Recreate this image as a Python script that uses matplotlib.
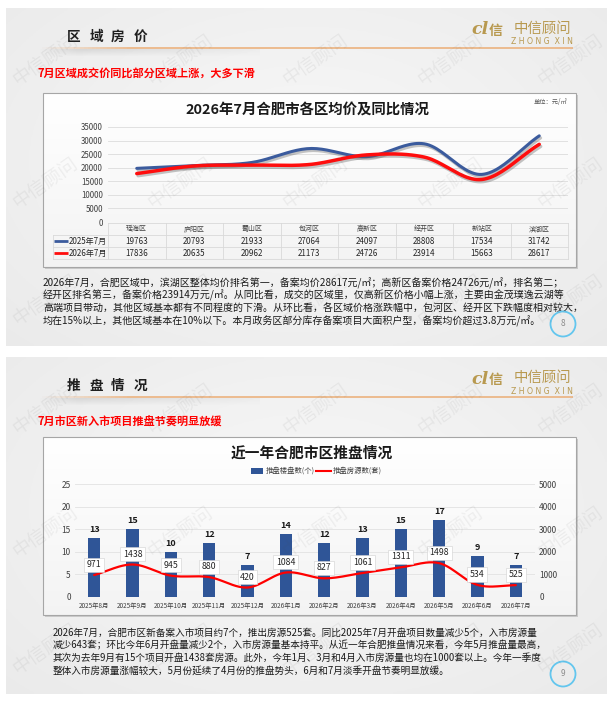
import matplotlib.pyplot as plt
import matplotlib.patheffects as pe
import numpy as np
from matplotlib.patches import Rectangle, Circle
from matplotlib.collections import LineCollection

plt.rcParams['font.family'] = ['Noto Sans CJK SC', 'DejaVu Sans']

# chart 1: district prices (yuan / m2)
districts = ['瑶海区', '庐阳区', '蜀山区', '包河区', '高新区', '经开区', '新站区', '滨湖区']
price_2025 = [19763, 20793, 21933, 27064, 24097, 28808, 17534, 31742]
price_2026 = [17836, 20635, 20962, 21173, 24726, 23914, 15663, 28617]
price_labels = ['2025年7月', '2026年7月']

# chart 2: monthly launches
months = ['2025年8月', '2025年9月', '2025年10月', '2025年11月', '2025年12月', '2026年1月',
          '2026年2月', '2026年3月', '2026年4月', '2026年5月', '2026年6月', '2026年7月']
projects = [13, 15, 10, 12, 7, 14, 12, 13, 15, 17, 9, 7]
units = [971, 1438, 945, 880, 420, 1084, 827, 1061, 1311, 1498, 534, 525]
bar_legend = ['推盘楼盘数(个)', '推盘房源数(套)']

para1 = [
    '2026年7月，合肥区域中，滨湖区整体均价排名第一，备案均价28617元/㎡；高新区备案价格24726元/㎡，排名第二；',
    '经开区排名第三，备案价格23914万元/㎡。从同比看，成交的区域里，仅高新区价格小幅上涨，主要由金茂璞逸云湖等',
    '高端项目带动，其他区域基本都有不同程度的下滑。从环比看，各区域价格涨跌幅中，包河区、经开区下跌幅度相对较大，',
    '均在15%以上，其他区域基本在10%以下。本月政务区部分库存备案项目大面积户型，备案均价超过3.8万元/㎡。',
]
para2 = [
    '2026年7月，合肥市区新备案入市项目约7个，推出房源525套。同比2025年7月开盘项目数量减少5个，入市房源量',
    '减少643套；环比今年6月开盘量减少2个，入市房源量基本持平。从近一年合肥推盘情况来看，今年5月推盘量最高，',
    '其次为去年9月有15个项目开盘1438套房源。此外，今年1月、3月和4月入市房源量也均在1000套以上。今年一季度',
    '整体入市房源量涨幅较大，5月份延续了4月份的推盘势头，6月和7月淡季开盘节奏明显放缓。',
]

W, H = 611, 703
BLUE_LINE = '#3B5B9D'
RED = '#FF0D0D'
BAR = '#2F5597'
GOLD = '#B8994F'
TXT = '#404040'

fig = plt.figure(figsize=(W / 100, H / 100), dpi=100)
bg = fig.add_axes([0, 0, 1, 1])
bg.axis('off')


def frac(x0, y0, x1, y1):
    # pixel box (top-left origin) -> figure fraction rect
    return [x0 / W, 1 - y1 / H, (x1 - x0) / W, (y1 - y0) / H]


def smooth(xs, ys, n=24):
    # Catmull-Rom curve through the points (like Excel's smoothed line)
    x = np.asarray(xs, float)
    y = np.asarray(ys, float)
    x = np.r_[2 * x[0] - x[1], x, 2 * x[-1] - x[-2]]
    y = np.r_[2 * y[0] - y[1], y, 2 * y[-1] - y[-2]]
    t = np.linspace(0, 1, n)
    sx, sy = [], []
    for i in range(1, len(x) - 2):
        for arr, out in ((x, sx), (y, sy)):
            p0, p1, p2, p3 = arr[i - 1:i + 3]
            out.append(0.5 * (2 * p1 + (p2 - p0) * t
                              + (2 * p0 - 5 * p1 + 4 * p2 - p3) * t ** 2
                              + (3 * p1 - p0 - 3 * p2 + p3) * t ** 3))
    return np.concatenate(sx), np.concatenate(sy)


def draw_slide(y0, y1, title, subtitle, box, page, page_y, para, para_x, para_y, para_dy, para_fs):
    yy, xx = np.mgrid[0:1:120j, 0:1:240j]
    d = np.sqrt((xx - 0.5) ** 2 + ((yy - 0.45) * 0.9) ** 2)
    v = 0.972 - 0.075 * d
    bg.imshow(np.dstack([v, v, v]), extent=(6, 607, y1, y0), aspect='auto', zorder=0)

    # header
    for k, ch in enumerate(title):
        bg.text(74 + 22 * k, y0 + 29, ch, fontsize=9.8, fontweight='bold',
                ha='center', va='center', color='#1f1f1f', zorder=3)
    xs_ = np.linspace(38, 573, 140)
    segs = [[(xs_[i], y0 + 40), (xs_[i + 1], y0 + 40)] for i in range(len(xs_) - 1)]
    alphas = np.clip((xs_[:-1] - 38) / 90, 0, 1)
    bg.add_collection(LineCollection(segs, colors=[(0.92, 0.68, 0.46, a) for a in alphas],
                                     linewidths=1.1, zorder=3))
    sh = np.zeros((8, 100, 4))
    sh[..., :3] = 0.55
    gy, gx = np.mgrid[0:1:8j, 0:1:100j]
    sh[..., 3] = 0.22 * (1 - gy) * np.clip(1.2 - gx, 0, 1) * np.clip(gx * 6, 0, 1)
    bg.imshow(sh, extent=(38, 260, y0 + 49, y0 + 41), aspect='auto', zorder=2)

    # logo
    bg.text(480, y0 + 22, 'cl', fontsize=12.5, family='DejaVu Serif', style='italic',
            fontweight='bold', color=GOLD, ha='center', va='center', zorder=3)
    bg.text(496, y0 + 23, '信', fontsize=10, fontweight='bold', color=GOLD,
            ha='center', va='center', zorder=3)
    bg.text(542, y0 + 21, '中信顾问', fontsize=10.4, color=GOLD, ha='center', va='center', zorder=3)
    bg.text(542, y0 + 34, 'Z H O N G  X I N', fontsize=5.6, family='DejaVu Sans',
            color=GOLD, ha='center', va='center', zorder=3)

    bg.text(38, y0 + 65, subtitle, fontsize=8, fontweight='bold', color='#FF0000',
            va='center', zorder=3)

    # chart frame
    bx0, by0, bx1, by1 = box
    bg.add_patch(Rectangle((bx0 + 2, by0 + 2), bx1 - bx0, by1 - by0, fc='0.55',
                           alpha=0.35, ec='none', zorder=1))
    g = np.linspace(1.0, 0.955, 60)[:, None] * np.ones((1, 4))
    bg.imshow(np.dstack([g, g, g]), extent=(bx0, bx1, by1, by0), aspect='auto', zorder=1.5)
    bg.add_patch(Rectangle((bx0, by0), bx1 - bx0, by1 - by0, fc='none',
                           ec='#a6a6a6', lw=0.8, zorder=2))

    for k, line in enumerate(para):
        bg.text(para_x, para_y + k * para_dy, line, fontsize=para_fs, color='#1a1a1a',
                va='center', zorder=3)

    bg.add_patch(Circle((563, page_y), 12.5, fill=False, ec='#63C6EE', lw=1.3, zorder=3))
    bg.text(563, page_y, page, fontsize=6, color='#8c8c8c', ha='center', va='center', zorder=3)


draw_slide(8, 346, '区域房价', '7月区域成交价同比部分区域上涨，大多下滑', (43, 93, 576, 267),
           '8', 324, para1, 43, 283, 12.8, 7.2)
draw_slide(357, 694, '推盘情况', '7月市区新入市项目推盘节奏明显放缓', (43, 437, 576, 615),
           '9', 674, para2, 53, 633, 12.4, 6.95)

bg.text(307, 110, '2026年7月合肥市各区均价及同比情况', fontsize=10.4, fontweight='bold',
        ha='center', va='center', color='#1a1a1a', zorder=3)
bg.text(567, 102, '单位：元/㎡', fontsize=4.5, color='#595959', ha='right', va='center', zorder=3)
bg.text(312, 453, '近一年合肥市区推盘情况', fontsize=10.6, fontweight='bold',
        ha='center', va='center', color='#1a1a1a', zorder=3)

# legend of chart 2
bg.add_patch(Rectangle((251, 468), 12, 6, fc=BAR, ec='none', zorder=3))
bg.text(265.5, 471, bar_legend[0], fontsize=5.3, color=TXT, va='center', zorder=3)
bg.plot([316, 331], [471, 471], color='#FF0000', lw=1.5, zorder=3)
bg.text(333, 471, bar_legend[1], fontsize=5.3, color=TXT, va='center', zorder=3)

bg.set_xlim(0, W)
bg.set_ylim(H, 0)

# ---- chart 1: smoothed price lines
ax1 = fig.add_axes(frac(108, 127, 568, 222))
ax1.patch.set_alpha(0)
xs = np.arange(len(districts))
for vals, c, lw in ((price_2025, BLUE_LINE, 2.2), (price_2026, RED, 2.5)):
    sx, sy = smooth(xs, vals)
    ax1.plot(sx, sy, color=c, lw=lw, solid_capstyle='round',
             path_effects=[pe.SimpleLineShadow(offset=(1, -1.5), shadow_color='0.35', alpha=0.35),
                           pe.Normal()])
ax1.set_xlim(-0.5, len(districts) - 0.5)
ax1.set_ylim(0, 35000)
ax1.set_yticks(range(0, 35001, 5000))
ax1.set_xticks([])
ax1.grid(axis='y', color='#dcdcdc', lw=0.6)
ax1.set_axisbelow(True)
for s in ax1.spines.values():
    s.set_visible(False)
ax1.tick_params(axis='y', length=0, labelsize=5.7, labelcolor=TXT, pad=3.6)

# data table under chart 1
tb = fig.add_axes(frac(108, 223, 568, 259))
tb.axis('off')
tb.set_xlim(-0.5, len(districts) - 0.5)
tb.set_ylim(3, 0)
col_w = (568 - 108) / len(districts)


def tx(px):
    return (px - 108) / col_w - 0.5


gc = '#d9d9d9'
tb.plot([-0.5, len(districts) - 0.5], [0, 0], color=gc, lw=0.6, clip_on=False)
for r in (1, 2, 3):
    tb.plot([tx(53), len(districts) - 0.5], [r, r], color=gc, lw=0.6, clip_on=False)
for k in range(len(districts) + 1):
    tb.plot([k - 0.5, k - 0.5], [0, 3], color=gc, lw=0.6, clip_on=False)
tb.plot([tx(53), tx(53)], [1, 3], color=gc, lw=0.6, clip_on=False)
for i, name in enumerate(districts):
    tb.text(i, 0.5, name, ha='center', va='center', fontsize=5, color=TXT)
    tb.text(i, 1.5, f'{price_2025[i]}', ha='center', va='center', fontsize=5.8, color='#262626')
    tb.text(i, 2.5, f'{price_2026[i]}', ha='center', va='center', fontsize=5.8, color='#262626')
for r, (lab, c) in enumerate(zip(price_labels, (BLUE_LINE, RED))):
    tb.plot([tx(54), tx(68)], [r + 1.5, r + 1.5], color=c, lw=2, clip_on=False,
            solid_capstyle='butt')
    tb.text(tx(69), r + 1.5, lab, ha='left', va='center', fontsize=5.8, color='#262626',
            clip_on=False)

# ---- chart 2: bars + smoothed line on secondary axis
ax2 = fig.add_axes(frac(75, 484, 535, 597))
ax2.patch.set_alpha(0)
x2 = np.arange(len(months))
bars = ax2.bar(x2, projects, width=0.33, color=BAR, zorder=2)
ax2.set_xlim(-0.5, len(months) - 0.5)
ax2.set_ylim(0, 25)
ax2.set_yticks(range(0, 26, 5))
ax2.set_xticks(x2)
ax2.set_xticklabels(months, fontsize=4.6, color=TXT)
ax2.tick_params(axis='x', length=0, pad=3.5)
ax2.tick_params(axis='y', length=0, labelsize=6, labelcolor=TXT, pad=3)
ax2.grid(axis='y', color='#e2e2e2', lw=0.6)
ax2.set_axisbelow(True)
for s in ax2.spines.values():
    s.set_visible(False)
for b, v in zip(bars, projects):
    ax2.annotate(str(v), (b.get_x() + b.get_width() / 2, v), xytext=(0, 3),
                 textcoords='offset points', ha='center', va='bottom',
                 fontsize=6.5, fontweight='bold', color='#1a1a1a')

ax3 = ax2.twinx()
ax3.set_ylim(0, 5000)
ax3.set_yticks(range(0, 5001, 1000))
ax3.tick_params(axis='y', length=0, labelsize=6, labelcolor=TXT, pad=3)
for s in ax3.spines.values():
    s.set_visible(False)
sx, sy = smooth(x2, units)
ax3.plot(sx, sy, color='#FF0000', lw=1.6, solid_capstyle='round')
for i, v in enumerate(units):
    ax3.annotate(str(v), (i, v), xytext=(0, 7.5), textcoords='offset points',
                 ha='center', va='center', fontsize=6.3, color='#262626',
                 bbox=dict(boxstyle='square,pad=0.3', fc='white', ec='#cfcfcf', lw=0.4))

# ---- watermark overlay (kept inside the picture)
wm = fig.add_axes([0, 0, 1, 1])
wm.axis('off')
wm.set_xlim(0, W)
wm.set_ylim(H, 0)
for top in (8, 357):
    for ry in (52, 175, 292):
        for cx in (45, 180, 315, 450, 570):
            wm.text(cx, top + ry, '中信顾问', fontsize=13.5, rotation=35, color='0.3',
                    alpha=0.07, ha='center', va='center')

fig.savefig('out.png', dpi=100)
